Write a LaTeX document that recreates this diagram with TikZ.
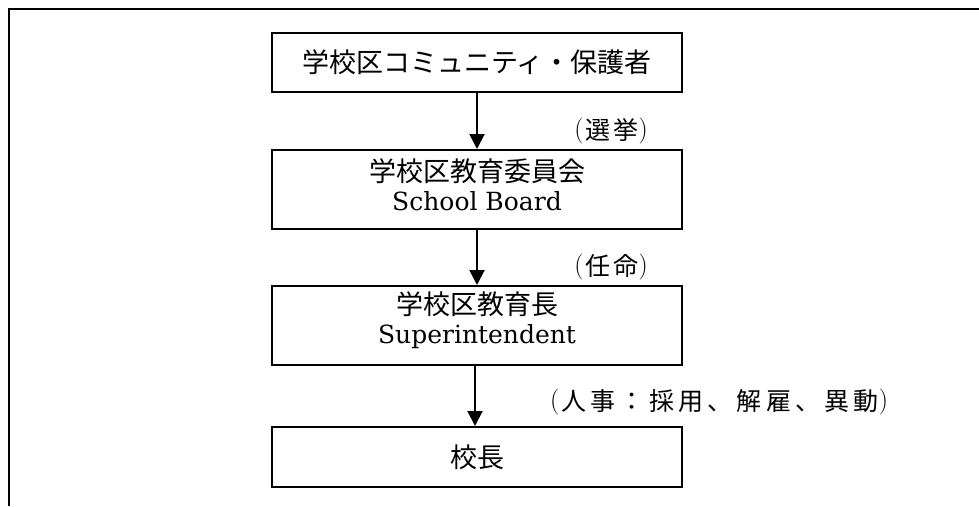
\documentclass[tikz,border=0pt]{standalone}
\usepackage{fontspec}
\setmainfont{DejaVu Serif}
\newfontfamily\cjk{Noto Sans CJK JP}
\newfontfamily\cjksp[LetterSpace=12]{Noto Sans CJK JP}
\newfontfamily\cjkwide[LetterSpace=17]{Noto Sans CJK JP}
\newfontfamily\thinparen{Latin Modern Roman}
\usetikzlibrary{arrows.meta}
\tikzset{
  box/.style={draw, line width=2pt, minimum width=410pt, inner sep=0pt, align=center,
    font=\fontsize{27}{29}\selectfont},
  conn/.style={line width=2pt, -{Triangle[width=15pt,length=15pt]}},
  lbl/.style={inner sep=0pt, font=\fontsize{25}{27}\selectfont},
  frameline/.style={line width=2pt}
}
\newcommand{\latn}[1]{{\fontsize{25}{29}\selectfont #1}}
\newcommand{\pl}{\raisebox{2pt}{\thinparen\fontsize{26}{27}\selectfont(}\hspace{2pt}}
\newcommand{\pr}{\raisebox{2pt}{\thinparen\fontsize{26}{27}\selectfont)}}
\begin{document}
\begin{tikzpicture}[x=1pt,y=-1pt]
\useasboundingbox (0,0) rectangle (979,506);
\coordinate (tl) at (9,9);
\coordinate (tr) at (979,9);
\coordinate (bl) at (9,506);
\draw[frameline] (tr) -- (8,9) (tl) -- (bl);
\node[box, minimum height=59.5pt] (b1) at (477,62.5) {\cjk 学校区コミュニティ・保護者};
\node[box, minimum height=79pt, text depth=10pt] (b2) at (477,189.5) {{\cjk 学校区教育委員会}\\\latn{School Board}};
\node[box, minimum height=79pt, text depth=16pt] (b3) at (477,325.5) {{\cjk 学校区教育長}\\\latn{Superintendent}};
\node[box, minimum height=60pt] (b4) at (477,457) {\cjk 校長};
\draw[conn] (b1) -- (b2);
\draw[conn] (b2) -- (b3);
\draw[conn] (b3.south -| 475,0) -- (b4.north -| 475,0);
\node[lbl, anchor=east] (l1) at (648,131) {\pl{\cjksp 選挙}\pr};
\node[lbl, anchor=east] (l2) at (648,267) {\pl{\cjksp 任命}\pr};
\node[lbl, anchor=west] (l3) at (550,402) {\pl{\cjkwide 人事：採用、解雇、異動}\pr};
\end{tikzpicture}
\end{document}
